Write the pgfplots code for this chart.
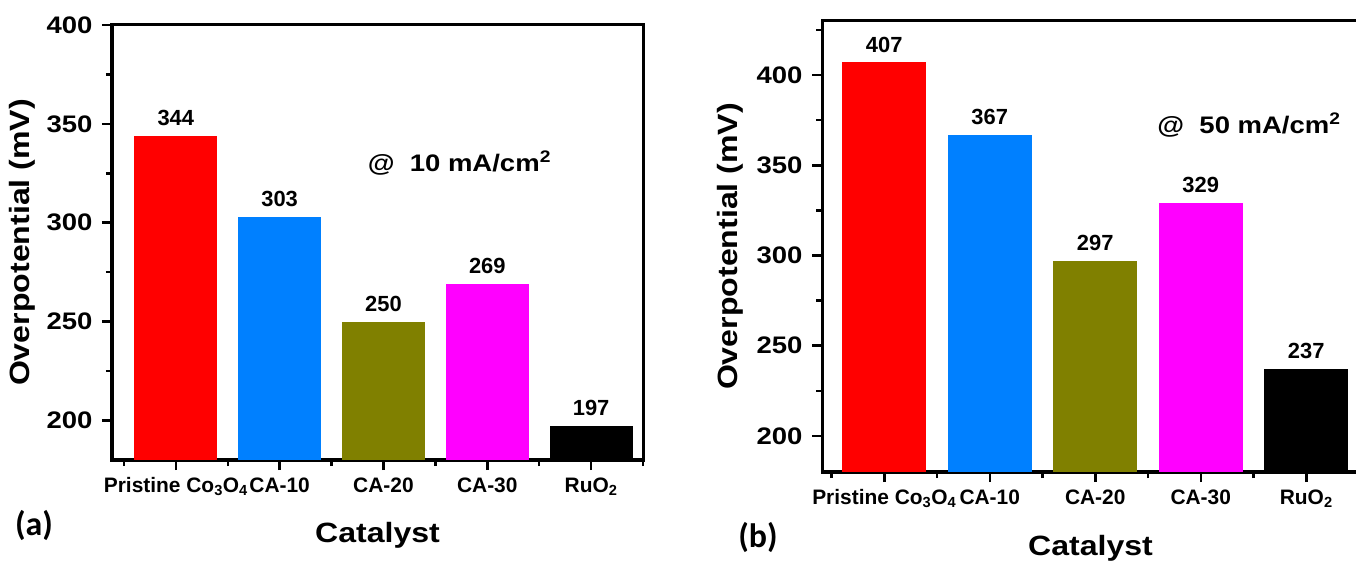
\documentclass[border=0pt]{standalone}
\usepackage{fontspec}
\setmainfont{Liberation Sans}
\newfontfamily\widefont{Liberation Sans}[FakeStretch=1.15]
\newfontfamily\labfont{Carlito}
\usepackage{pgfplots}
\pgfplotsset{compat=1.18}

\definecolor{cred}{RGB}{255,0,0}
\definecolor{cblue}{RGB}{0,128,255}
\definecolor{colive}{RGB}{128,128,0}
\definecolor{cmag}{RGB}{255,0,255}

\pgfplotsset{
  mystyle/.style={
    scale only axis,
    ybar, bar width=0.8, bar shift=0pt,
    axis line style={line width=3bp},
    tick style={line width=2.5bp, black},
    major tick length=10bp, minor tick length=6bp,
    tick align=outside, tick pos=left,
    xtick={1,2,3,4,5},
    minor xtick={0.5,1.5,2.5,3.5,4.5,5.5},
    xticklabels={Pristine Co\textsubscript{3}O\textsubscript{4}, CA-10, CA-20, CA-30, RuO\textsubscript{2}},
    ymin=180,
    ytick={200,250,300,350,400},
    minor ytick={225,275,325,375,425},
    /pgf/number format/assume math mode=true,
    yticklabel style={font=\widefont\fontsize{24}{24}\selectfont\bfseries, xshift=-6bp},
    xticklabel style={font=\fontsize{21}{22}\selectfont\bfseries, yshift=-4bp},
    xlabel={Catalyst}, ylabel={Overpotential (mV)},
    label style={font=\widefont\fontsize{28}{30}\selectfont\bfseries},
    nodes near coords,
    every node near coord/.append style={font=\fontsize{22}{22}\selectfont\bfseries, black, inner sep=0pt, anchor=south, yshift=10bp},
  }
}

\begin{document}
\begin{tikzpicture}
\path[use as bounding box] (0,0) rectangle (1356bp,562bp);
\clip (0,0) rectangle (1356bp,562bp);

% Panel (a)
\begin{axis}[mystyle,
  at={(112bp,102bp)}, anchor=south west,
  width=531bp, height=435bp,
  xmin=0.385, xmax=5.5, ymax=400,
  xlabel style={at={(axis description cs:0.5,-0.172)}, anchor=center},
  ylabel style={at={(axis description cs:-0.1695,0.5)}, anchor=center, rotate=0},
]
\addplot[fill=cred, draw=none] coordinates {(1,344)};
\addplot[fill=cblue, draw=none] coordinates {(2,303)};
\addplot[fill=colive, draw=none] coordinates {(3,250)};
\addplot[fill=cmag, draw=none] coordinates {(4,269)};
\addplot[fill=black, draw=none] coordinates {(5,197)};
\node[anchor=west, font=\widefont\fontsize{24}{24}\selectfont\bfseries] at (axis description cs:0.475,0.683) {@\ \ 10 mA/cm\textsuperscript{2}};
\end{axis}

% Panel (b)
\begin{axis}[mystyle,
  at={(822bp,90bp)}, anchor=south west,
  width=537bp, height=451bp,
  xmin=0.41, xmax=5.5, ymax=430,
  xlabel style={at={(axis description cs:0.5,-0.169)}, anchor=center},
  ylabel style={at={(axis description cs:-0.171,0.5)}, anchor=center, rotate=0},
]
\addplot[fill=cred, draw=none] coordinates {(1,407)};
\addplot[fill=cblue, draw=none] coordinates {(2,367)};
\addplot[fill=colive, draw=none] coordinates {(3,297)};
\addplot[fill=cmag, draw=none] coordinates {(4,329)};
\addplot[fill=black, draw=none] coordinates {(5,237)};
\node[anchor=west, font=\widefont\fontsize{24}{24}\selectfont\bfseries] at (axis description cs:0.618,0.769) {@\ \ 50 mA/cm\textsuperscript{2}};
\end{axis}

\node[font=\labfont\fontsize{34}{34}\selectfont\bfseries] at (34bp,37bp) {(a)};
\node[font=\labfont\fontsize{34}{34}\selectfont\bfseries] at (758bp,25bp) {(b)};
\end{tikzpicture}
\end{document}
